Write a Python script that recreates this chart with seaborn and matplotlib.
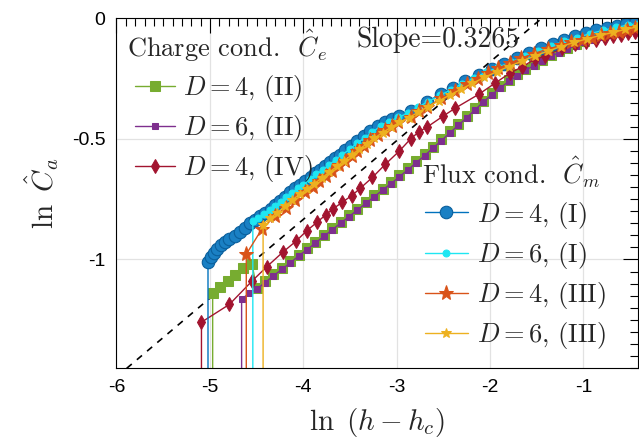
import numpy as np
import pandas as pd
import matplotlib
matplotlib.use("Agg")
import matplotlib.pyplot as plt
import seaborn as sns
from matplotlib.ticker import MultipleLocator
from matplotlib.lines import Line2D
from matplotlib.legend_handler import HandlerLine2D

# values (x = ln(h - h_c), y = ln C_a)
floor = -3.0  # curves drop off the bottom of the axes at their first point

# Flux cond. C_m
d4_I_x = [-5.02, -4.99, -4.96, -4.92, -4.88, -4.84, -4.79, -4.73, -4.68, -4.62,
          -4.57, -4.52, -4.46, -4.41, -4.35, -4.30, -4.25, -4.20, -4.14, -4.09,
          -4.03, -3.98, -3.92, -3.87, -3.82, -3.77, -3.71, -3.66, -3.61, -3.55,
          -3.49, -3.42, -3.35, -3.28, -3.20, -3.12, -3.05, -2.97, -2.85, -2.67,
          -2.52, -2.40, -2.27, -2.12, -1.98, -1.85, -1.71, -1.58, -1.45, -1.33,
          -1.21, -1.09, -0.97, -0.86, -0.75, -0.64, -0.54, -0.45]
d4_I_y = [-1.01, -0.99, -0.975, -0.955, -0.94, -0.928, -0.915, -0.902, -0.888, -0.868,
          -0.85, -0.835, -0.82, -0.806, -0.79, -0.773, -0.757, -0.74, -0.72, -0.703,
          -0.69, -0.675, -0.656, -0.64, -0.628, -0.614, -0.596, -0.58, -0.566, -0.548,
          -0.53, -0.51, -0.49, -0.468, -0.448, -0.43, -0.418, -0.405, -0.385, -0.345,
          -0.312, -0.29, -0.26, -0.235, -0.21, -0.19, -0.165, -0.145, -0.125, -0.108,
          -0.09, -0.075, -0.062, -0.05, -0.04, -0.032, -0.025, -0.018]

d6_I_x = [-4.54, -4.48, -4.42, -4.36, -4.30, -4.24, -4.18, -4.12, -4.06, -4.00,
          -3.93, -3.86, -3.79, -3.72, -3.65, -3.58, -3.50, -3.42, -3.34, -3.26,
          -3.17, -3.08, -2.98, -2.88, -2.77, -2.66, -2.54, -2.42, -2.30, -2.17,
          -2.04, -1.91, -1.77, -1.63, -1.49, -1.35, -1.21, -1.07, -0.93, -0.79,
          -0.65, -0.52, -0.42]
d6_I_y = [-0.842, -0.826, -0.81, -0.794, -0.778, -0.76, -0.742, -0.723, -0.705, -0.69,
          -0.668, -0.647, -0.628, -0.607, -0.586, -0.566, -0.541, -0.517, -0.495, -0.472,
          -0.447, -0.428, -0.41, -0.394, -0.368, -0.345, -0.32, -0.297, -0.272, -0.248,
          -0.223, -0.203, -0.18, -0.157, -0.135, -0.115, -0.095, -0.08, -0.064, -0.05,
          -0.038, -0.028, -0.022]

d4_III_x = [-4.61, -4.44, -4.30, -4.19, -4.09, -3.98, -3.90, -3.83, -3.76, -3.69,
            -3.62, -3.55, -3.48, -3.42, -3.35, -3.28, -3.20, -3.12, -3.05, -2.98,
            -2.85, -2.76, -2.67, -2.52, -2.37, -2.25, -2.13, -2.02, -1.91, -1.79,
            -1.67, -1.53, -1.38, -1.24, -1.13, -1.02, -0.91, -0.81, -0.71, -0.62,
            -0.53, -0.45]
d4_III_y = [-0.978, -0.872, -0.82, -0.785, -0.752, -0.722, -0.698, -0.676, -0.653, -0.632,
            -0.61, -0.59, -0.57, -0.55, -0.528, -0.506, -0.485, -0.465, -0.447, -0.43,
            -0.408, -0.386, -0.366, -0.332, -0.3, -0.274, -0.25, -0.228, -0.207, -0.186,
            -0.166, -0.146, -0.128, -0.112, -0.1, -0.09, -0.08, -0.07, -0.062, -0.055,
            -0.047, -0.04]

d6_III_x = [-4.43, -4.36, -4.28, -4.20, -4.12, -4.04, -3.96, -3.88, -3.80, -3.72,
            -3.64, -3.56, -3.48, -3.40, -3.32, -3.24, -3.15, -3.06, -2.97, -2.87,
            -2.77, -2.66, -2.55, -2.43, -2.31, -2.19, -2.06, -1.93, -1.80, -1.66,
            -1.52, -1.38, -1.24, -1.10, -0.96, -0.82, -0.68, -0.55, -0.43]
d6_III_y = [-0.855, -0.83, -0.806, -0.78, -0.754, -0.73, -0.708, -0.685, -0.662, -0.638,
            -0.614, -0.59, -0.566, -0.543, -0.52, -0.497, -0.474, -0.452, -0.432, -0.412,
            -0.39, -0.366, -0.343, -0.318, -0.294, -0.27, -0.245, -0.222, -0.2, -0.178,
            -0.156, -0.136, -0.117, -0.1, -0.085, -0.071, -0.058, -0.046, -0.036]

# Charge cond. C_e
band_x = [-4.50, -4.41, -4.32, -4.23, -4.14, -4.05, -3.96, -3.87, -3.78, -3.69,
          -3.60, -3.51, -3.42, -3.33, -3.24, -3.15, -3.06, -2.97, -2.88, -2.79,
          -2.70, -2.61, -2.52, -2.43, -2.34, -2.25, -2.16, -2.07, -1.98, -1.89,
          -1.80, -1.71, -1.62, -1.53, -1.44, -1.35, -1.26, -1.17, -1.08, -0.99,
          -0.90, -0.81, -0.72, -0.63, -0.54, -0.45]

d4_II_x = [-4.97, -4.89, -4.81, -4.73, -4.65, -4.55] + band_x
d4_II_y = [-1.137, -1.115, -1.09, -1.065, -1.035, -1.017,
           -1.117, -1.09, -1.062, -1.035, -1.008, -0.98, -0.953, -0.926, -0.898, -0.871,
           -0.843, -0.816, -0.789, -0.761, -0.734, -0.706, -0.679, -0.651, -0.622, -0.593,
           -0.563, -0.532, -0.501, -0.469, -0.438, -0.406, -0.373, -0.341, -0.31, -0.282,
           -0.256, -0.232, -0.21, -0.19, -0.171, -0.153, -0.137, -0.122, -0.108, -0.095,
           -0.083, -0.071, -0.06, -0.05, -0.041, -0.025]

d6_II_x = [-4.66, -4.58] + band_x
d6_II_y = [-1.165, -1.14,
           -1.123, -1.096, -1.068, -1.041, -1.014, -0.986, -0.959, -0.932, -0.904, -0.877,
           -0.849, -0.822, -0.795, -0.767, -0.740, -0.712, -0.685, -0.657, -0.628, -0.599,
           -0.569, -0.538, -0.507, -0.475, -0.444, -0.412, -0.379, -0.347, -0.316, -0.288,
           -0.262, -0.238, -0.216, -0.196, -0.177, -0.158, -0.142, -0.127, -0.113, -0.1,
           -0.088, -0.076, -0.065, -0.055, -0.046, -0.033]

d4_IV_x = [-5.09, -4.79, -4.55, -4.39, -4.22, -4.08, -3.96, -3.85, -3.76, -3.68,
           -3.58, -3.48, -3.39, -3.26, -3.12, -2.97, -2.85, -2.76, -2.67, -2.50,
           -2.37, -2.12, -1.95, -1.79, -1.66, -1.52, -1.41, -1.23, -1.09, -0.97,
           -0.87, -0.77, -0.68, -0.60, -0.52, -0.45]
d4_IV_y = [-1.26, -1.186, -1.09, -1.03, -0.97, -0.925, -0.88, -0.845, -0.815, -0.79,
           -0.762, -0.735, -0.705, -0.66, -0.605, -0.55, -0.50, -0.47, -0.45, -0.405,
           -0.372, -0.315, -0.27, -0.228, -0.202, -0.17, -0.157, -0.124, -0.108, -0.097,
           -0.088, -0.08, -0.075, -0.07, -0.063, -0.058]

# fitted reference line
slope = 0.3265
intercept = 0.472

xticks = [-6, -5, -4, -3, -2, -1]
xtick_labels = ["-6", "-5", "-4", "-3", "-2", "-1"]
yticks = [-1, -0.5, 0]
ytick_labels = ["-1", "-0.5", "0"]

sns.set_theme(style="white")
plt.rcParams['font.family'] = ['Liberation Sans', 'DejaVu Sans']
plt.rcParams['mathtext.fontset'] = 'cm'
plt.rcParams['axes.unicode_minus'] = False
serif = {"family": "cmr10", "size": 19}

fig = plt.figure(figsize=(6.39, 4.41), dpi=100)
ax = fig.add_axes([0.1823, 0.1655, 0.8154, 0.793])


def draw(xs, ys, label, **style):
    df = pd.DataFrame({"x": [xs[0]] + list(xs), "y": [floor] + list(ys)})
    sns.lineplot(data=df, x="x", y="y", ax=ax, sort=False, estimator=None,
                 legend=False, **style)
    line = ax.lines[-1]
    line.set_label(label)
    return line


# dashed fit line
fit_x = np.array([-6.0, 0.0])
sns.lineplot(x=fit_x, y=slope * fit_x + intercept, ax=ax, color="black",
             linestyle=(0, (4, 4)), linewidth=1.2, legend=False)

g = draw(d4_II_x, d4_II_y, r"$D=4,\,(\mathrm{II})$", color="#77AC30",
         marker="s", markersize=7, markerfacecolor="#77AC30",
         markeredgecolor="#77AC30", linewidth=1)
p = draw(d6_II_x, d6_II_y, r"$D=6,\,(\mathrm{II})$", color="#7E2F8E",
         marker="s", markersize=4, markerfacecolor="#7E2F8E",
         markeredgecolor="#7E2F8E", linewidth=1)
r = draw(d4_IV_x, d4_IV_y, r"$D=4,\,(\mathrm{IV})$", color="#A2142F",
         marker="d", markersize=7.5, markerfacecolor="#A2142F",
         markeredgecolor="#A2142F", linewidth=1)
b = draw(d4_I_x, d4_I_y, r"$D=4,\,(\mathrm{I})$", color="#0072BD",
         marker="o", markersize=9, markerfacecolor="#1a80c4",
         markeredgecolor="#0a5f9c", markeredgewidth=0.8, linewidth=1)
c = draw(d6_I_x, d6_I_y, r"$D=6,\,(\mathrm{I})$", color="#1ee6f2",
         marker="o", markersize=5, markerfacecolor="#1ee6f2",
         markeredgecolor="#1ee6f2", linewidth=1)
o = draw(d4_III_x, d4_III_y, r"$D=4,\,(\mathrm{III})$", color="#D95319",
         marker="*", markersize=11, markerfacecolor="#D95319",
         markeredgecolor="#D95319", linewidth=1)
yl = draw(d6_III_x, d6_III_y, r"$D=6,\,(\mathrm{III})$", color="#EDB120",
          marker="*", markersize=7.5, markerfacecolor="#EDB120",
          markeredgecolor="#EDB120", linewidth=1)

ax.set_xlim(-6, -0.42)
ax.set_ylim(-1.45, 0)
ax.set_xticks(xticks, labels=xtick_labels)
ax.set_yticks(yticks, labels=ytick_labels)
ax.xaxis.set_minor_locator(MultipleLocator(0.1))
ax.yaxis.set_minor_locator(MultipleLocator(0.05))
ax.tick_params(which="both", direction="in", top=True, right=True,
               colors="black", width=0.8, labelsize=14)
ax.tick_params(which="major", length=11, pad=8)
ax.tick_params(which="minor", length=6)
ax.grid(True, which="major", color="#e2e2e2", linewidth=0.9)
ax.set_axisbelow(True)
for s in ax.spines.values():
    s.set_color("black")
    s.set_linewidth(0.8)

ax.set_xlabel(r"$\ln\ (h-h_c)$", fontsize=21, labelpad=7)
ax.set_ylabel(r"$\ln\ \hat{C}_a$", fontsize=21, labelpad=8)

ax.text(-3.43, -0.09, "Slope=0.3265", fontdict={"family": "cmr10", "size": 20},
        ha="left", va="center")

common = dict(loc="upper left", frameon=False, fontsize=19,
              title_fontproperties=serif, alignment="left",
              labelspacing=0.35, borderpad=0, borderaxespad=0)
leg1 = ax.legend(handles=[g, p, r], title=r"Charge cond.  $\hat{C}_e$",
                 bbox_to_anchor=(0.02, 0.975), handlelength=1.82,
                 handletextpad=0.3,
                 handler_map={Line2D: HandlerLine2D(xpad=0.3)}, **common)
ax.add_artist(leg1)
ax.legend(handles=[b, c, o, yl], title=r"Flux cond.  $\hat{C}_m$",
          bbox_to_anchor=(0.586, 0.611), handlelength=1.75,
          handletextpad=0.34,
          handler_map={Line2D: HandlerLine2D(xpad=0.12)}, **common)

fig.savefig("out.png", dpi=100)
